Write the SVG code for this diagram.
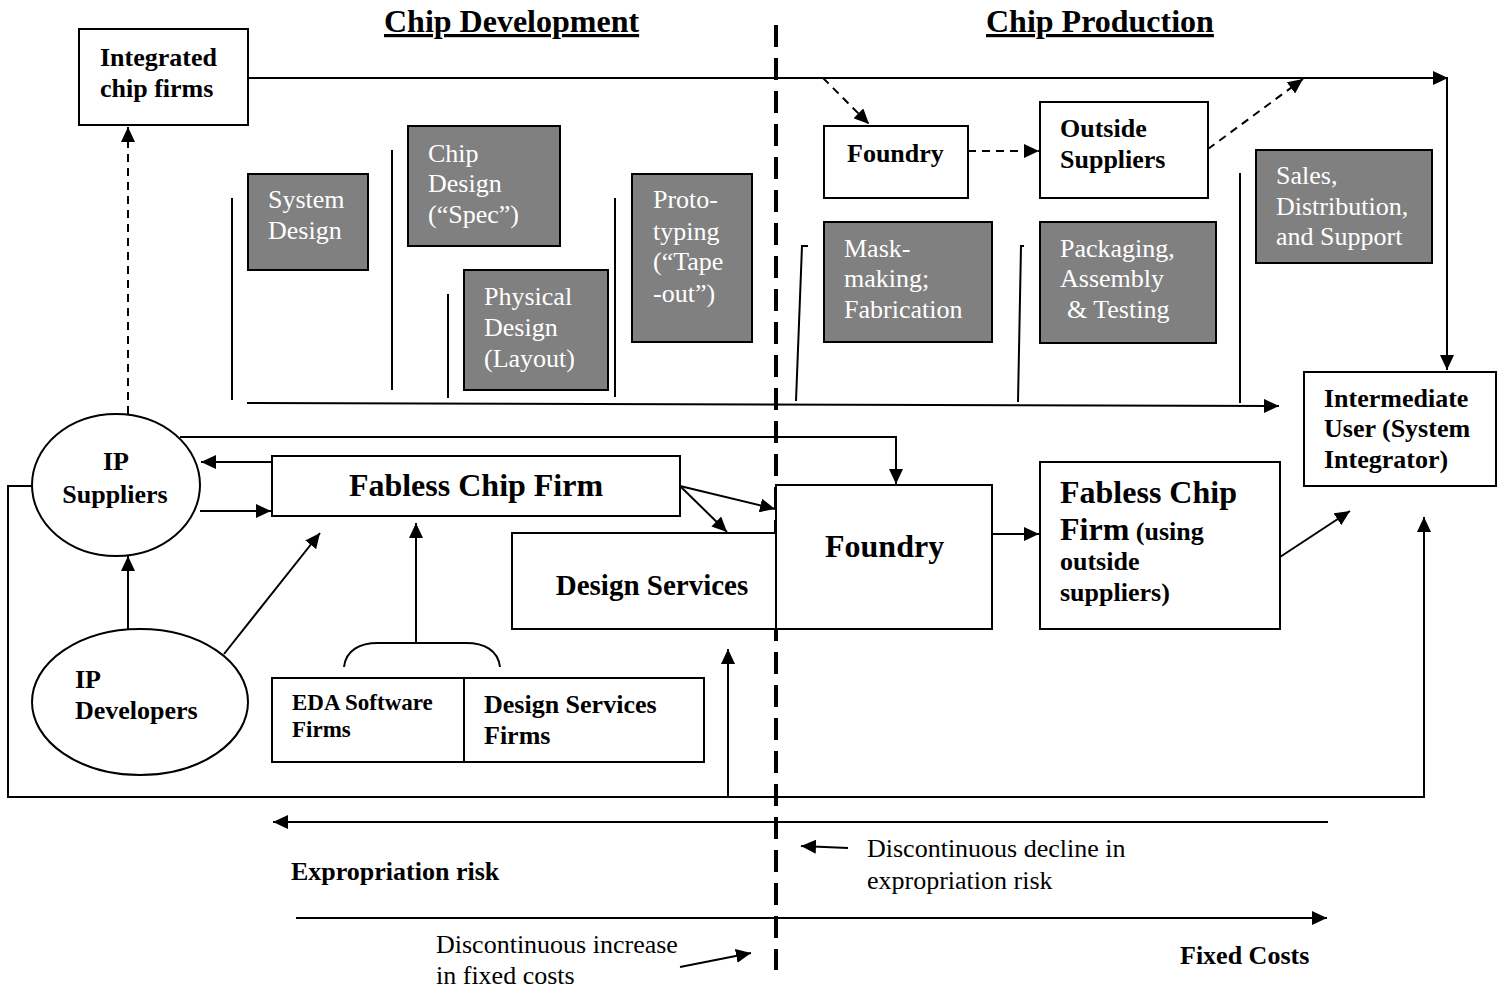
<svg xmlns="http://www.w3.org/2000/svg" width="1502" height="990" viewBox="0 0 1502 990">
<style>
.box{fill:#fff;stroke:#000;stroke-width:2}
.gray{fill:#808080;stroke:#000;stroke-width:2}
.ln{fill:none;stroke:#000;stroke-width:2}
.dash{fill:none;stroke:#000;stroke-width:2;stroke-dasharray:8 6}
.t{font-family:"Liberation Serif","Times New Roman",serif;font-size:26px;fill:#000}
.b{font-weight:bold}
.w{fill:#fff}
.title{font-family:"Liberation Serif","Times New Roman",serif;font-size:32px;font-weight:bold;text-decoration:underline}
</style>
<defs>
<marker id="a" markerUnits="userSpaceOnUse" markerWidth="16" markerHeight="14" refX="15" refY="7" orient="auto">
<path d="M0,0 L15,7 L0,14 z" fill="#000"/>
</marker>
</defs>
<rect width="1502" height="990" fill="#fff"/>

<g id="titles">
<text class="title" x="384" y="32">Chip Development</text>
<text class="title" x="986" y="32">Chip Production</text>
</g>

<g id="divider">
<line x1="776" y1="25" x2="776" y2="970" stroke="#000" stroke-width="4" stroke-dasharray="22 11"/>
</g>

<g id="integrated">
<rect class="box" x="79" y="29" width="169" height="96"/>
<text class="t b" x="100" y="66">Integrated</text>
<text class="t b" x="100" y="97">chip firms</text>
</g>

<g id="system-design">
<rect class="gray" x="248" y="174" width="120" height="96"/>
<text class="t w" x="268" y="208">System</text>
<text class="t w" x="268" y="239">Design</text>
</g>
<g id="chip-design">
<rect class="gray" x="408" y="126" width="152" height="120"/>
<text class="t w" x="428" y="162">Chip</text>
<text class="t w" x="428" y="192">Design</text>
<text class="t w" x="428" y="223">(“Spec”)</text>
</g>
<g id="physical-design">
<rect class="gray" x="464" y="270" width="144" height="120"/>
<text class="t w" x="484" y="305">Physical</text>
<text class="t w" x="484" y="336">Design</text>
<text class="t w" x="484" y="367">(Layout)</text>
</g>
<g id="prototyping">
<rect class="gray" x="632" y="174" width="120" height="168"/>
<text class="t w" x="653" y="208">Proto-</text>
<text class="t w" x="653" y="240">typing</text>
<text class="t w" x="653" y="270">(“Tape</text>
<text class="t w" x="653" y="302">-out”)</text>
</g>
<g id="foundry-small">
<rect class="box" x="824" y="126" width="144" height="72"/>
<text class="t b" x="847" y="162">Foundry</text>
</g>
<g id="outside-suppliers">
<rect class="box" x="1040" y="102" width="168" height="96"/>
<text class="t b" x="1060" y="137">Outside</text>
<text class="t b" x="1060" y="168">Suppliers</text>
</g>
<g id="mask-making">
<rect class="gray" x="824" y="222" width="168" height="120"/>
<text class="t w" x="844" y="257">Mask-</text>
<text class="t w" x="844" y="287">making;</text>
<text class="t w" x="844" y="318">Fabrication</text>
</g>
<g id="packaging">
<rect class="gray" x="1040" y="222" width="176" height="121"/>
<text class="t w" x="1060" y="257">Packaging,</text>
<text class="t w" x="1060" y="287">Assembly</text>
<text class="t w" x="1067" y="318">&amp; Testing</text>
</g>
<g id="sales">
<rect class="gray" x="1256" y="150" width="176" height="113"/>
<text class="t w" x="1276" y="184">Sales,</text>
<text class="t w" x="1276" y="215">Distribution,</text>
<text class="t w" x="1276" y="245">and Support</text>
</g>
<g id="intermediate-user">
<rect class="box" x="1304" y="372" width="192" height="114"/>
<text class="t b" x="1324" y="407">Intermediate</text>
<text class="t b" x="1324" y="437">User (System</text>
<text class="t b" x="1324" y="468">Integrator)</text>
</g>

<g id="ip-suppliers">
<ellipse class="box" cx="116" cy="485" rx="84" ry="71"/>
<text class="t b" x="116" y="470" text-anchor="middle">IP</text>
<text class="t b" x="115" y="503" text-anchor="middle">Suppliers</text>
</g>
<g id="fabless">
<rect class="box" x="272" y="456" width="408" height="60"/>
<text class="t b" x="476" y="496" text-anchor="middle" style="font-size:32px">Fabless Chip Firm</text>
</g>
<g id="design-services">
<rect class="box" x="512" y="533" width="264" height="96"/>
<text class="t b" x="652" y="595" text-anchor="middle" style="font-size:29px">Design Services</text>
</g>
<g id="foundry">
<rect class="box" x="776" y="485" width="216" height="144"/>
<text class="t b" x="825" y="557" style="font-size:32px">Foundry</text>
</g>
<g id="fabless-outside">
<rect class="box" x="1040" y="462" width="240" height="167"/>
<text class="t b" x="1060" y="503" style="font-size:32px">Fabless Chip</text>
<text class="t b" x="1060" y="540"><tspan style="font-size:32px">Firm</tspan> (using</text>
<text class="t b" x="1060" y="570">outside</text>
<text class="t b" x="1060" y="601">suppliers)</text>
</g>
<g id="ip-developers">
<ellipse class="box" cx="140" cy="702" rx="108" ry="73"/>
<text class="t b" x="75" y="688">IP</text>
<text class="t b" x="75" y="719">Developers</text>
</g>
<g id="eda-firms">
<rect class="box" x="272" y="678" width="432" height="84"/>
<line class="ln" x1="464" y1="678" x2="464" y2="762"/>
<text class="t b" x="292" y="710" style="font-size:23px">EDA Software</text>
<text class="t b" x="292" y="737" style="font-size:23px">Firms</text>
<text class="t b" x="484" y="713">Design Services</text>
<text class="t b" x="484" y="744">Firms</text>
</g>

<g id="labels">
<text class="t b" x="291" y="880">Expropriation risk</text>
<text class="t" x="867" y="857">Discontinuous decline in</text>
<text class="t" x="867" y="889">expropriation risk</text>
<text class="t" x="436" y="953">Discontinuous increase</text>
<text class="t" x="436" y="984">in fixed costs</text>
<text class="t b" x="1180" y="964">Fixed Costs</text>
</g>

<g id="connectors">
<!-- top flow -->
<path class="ln" d="M248,78 H1448" marker-end="url(#a)"/>
<path class="ln" d="M1447,78 V370" marker-end="url(#a)"/>
<path class="dash" d="M823,78 L869,124" marker-end="url(#a)"/>
<path class="dash" d="M968,151 L1039,151" marker-end="url(#a)"/>
<path class="dash" d="M1208,149 L1303,79" marker-end="url(#a)"/>
<path class="dash" d="M128,414 V127" marker-end="url(#a)"/>
<!-- stage brackets -->
<path class="ln" d="M232,198 V400"/>
<path class="ln" d="M392,150 V390"/>
<path class="ln" d="M448,294 V398"/>
<path class="ln" d="M615,198 V397"/>
<path class="ln" d="M808,246 H802 L796,401"/>
<path class="ln" d="M1024,246 H1021 L1018,402"/>
<path class="ln" d="M1240,173 V403"/>
<path class="ln" d="M247,403 L1279,406" marker-end="url(#a)"/>
<!-- lower flow -->
<path class="ln" d="M180,437 H896 V484" marker-end="url(#a)"/>
<path class="ln" d="M272,462 H201" marker-end="url(#a)"/>
<path class="ln" d="M200,511 H271" marker-end="url(#a)"/>
<path class="ln" d="M680,486 L775,509" marker-end="url(#a)"/>
<path class="ln" d="M680,486 L727,532" marker-end="url(#a)"/>
<path class="ln" d="M992,534 H1039" marker-end="url(#a)"/>
<path class="ln" d="M1280,557 L1350,511" marker-end="url(#a)"/>
<path class="ln" d="M128,630 V556" marker-end="url(#a)"/>
<path class="ln" d="M224,654 L320,533" marker-end="url(#a)"/>
<path class="ln" d="M344,667 C346,650 360,643 378,643 H466 C484,643 498,650 500,667"/>
<path class="ln" d="M416,643 V523" marker-end="url(#a)"/>
<path class="ln" d="M32,486 H8 V797 H1424 V517" marker-end="url(#a)"/>
<path class="ln" d="M728,797 V649" marker-end="url(#a)"/>
<!-- bottom axes -->
<path class="ln" d="M1328,822 H273" marker-end="url(#a)"/>
<path class="ln" d="M296,918 H1327" marker-end="url(#a)"/>
<path class="ln" d="M848,848 L801,846" marker-end="url(#a)"/>
<path class="ln" d="M680,967 L751,953" marker-end="url(#a)"/>
</g>
</svg>
